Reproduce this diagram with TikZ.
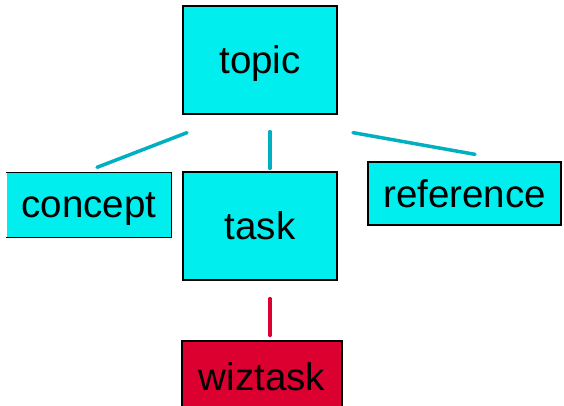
\documentclass[tikz,border=0pt]{standalone}
\usepackage{fontspec}
\setmainfont{Liberation Sans}
\usetikzlibrary{positioning}
\definecolor{boxcyan}{RGB}{0,238,238}
\definecolor{boxred}{RGB}{220,0,48}
\definecolor{linkteal}{RGB}{0,176,192}
\tikzset{
topicbox/.style={
  draw=black,
  line width=1.3pt,
  fill=boxcyan,
  inner sep=0pt,
  text depth=0pt,
  font=\fontsize{38.5}{40}\selectfont
  }
}
\tikzset{
wizbox/.style={
  topicbox,
  fill=boxred
  }
}
\tikzstyle{link} = [draw,line width=3.5pt,line cap=round,color=linkteal]
\tikzstyle{wizlink} = [link,color=boxred]
\tikzset{%
    boundingBox/.style={use as bounding box},
    }

\begin{document}
\begin{tikzpicture}[x=1pt, y=1pt]
	\path[boundingBox] (0,0) rectangle (564,405);
	%vertices
	\node (topic) at (260, 345) [topicbox, minimum width=154pt, minimum height=108pt] {topic};
	\node (concept) at (89, 200) [topicbox, draw=none, minimum width=164pt, minimum height=64pt] {concept};
	\node (task) at (260, 179) [topicbox, minimum width=154pt, minimum height=108pt] {task};
	\node (reference) at (464.5, 211.5) [topicbox, minimum width=193pt, minimum height=63pt] {reference};
	\node (wiztask) at (262, 28.5) [wizbox, minimum width=160pt, minimum height=71pt] {wiztask};
	% concept box has no left side
	\draw[line width=1.3pt] (concept.north west) -- (concept.north east) -- (concept.south east) -- (concept.south west);
	%edges
	\draw ([xshift=-73pt,yshift=-18pt]topic.south) edge[link] ([xshift=8pt,yshift=5pt]concept.north);
	\draw ([xshift=10pt,yshift=-17pt]topic.south) edge[link] ([xshift=10pt,yshift=3pt]task.north);
	\draw ([xshift=93pt,yshift=-18pt]topic.south) edge[link] ([xshift=10.5pt,yshift=7pt]reference.north);
	\draw ([xshift=10pt,yshift=-18pt]task.south) edge[wizlink] ([xshift=8pt,yshift=5pt]wiztask.north);
\end{tikzpicture}
\end{document}
